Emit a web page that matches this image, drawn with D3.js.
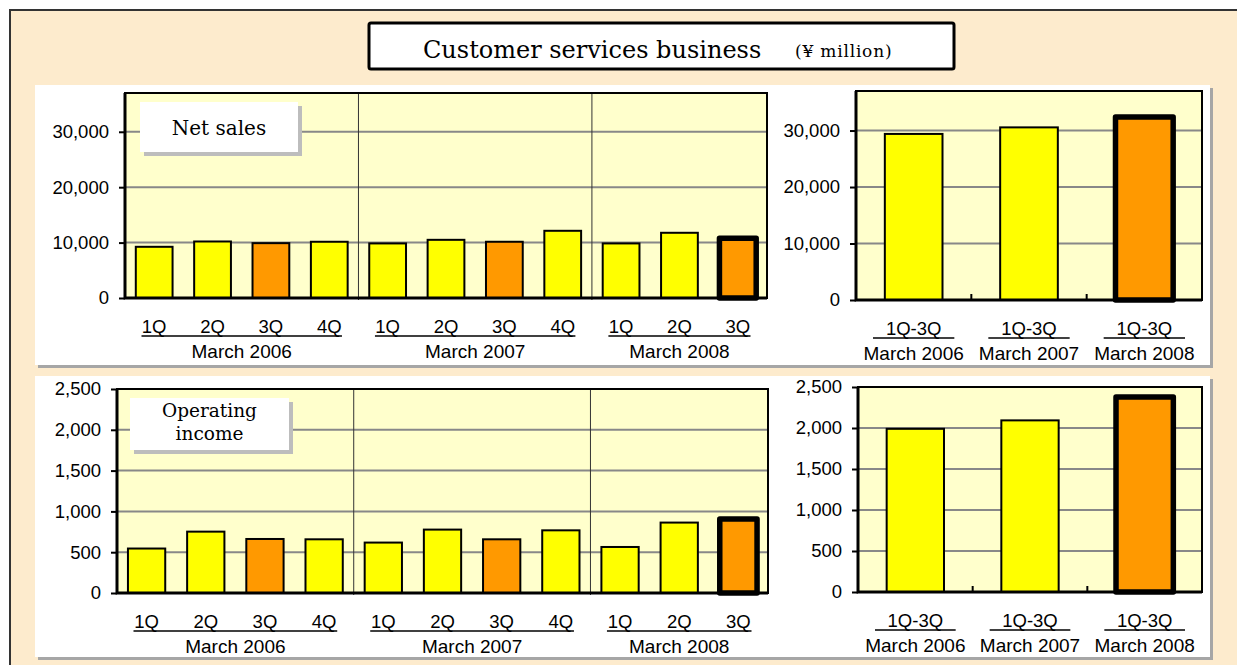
<!DOCTYPE html>
<html>
<head>
<meta charset="utf-8">
<script src="https://cdn.jsdelivr.net/npm/d3@7"></script>
<style>
  body { margin: 0; background: #fff; }
  svg { display: block; }
</style>
</head>
<body>
<script>
// quarterly data, fiscal years ending March
const quarters = ["1Q", "2Q", "3Q", "4Q", "1Q", "2Q", "3Q", "4Q", "1Q", "2Q", "3Q"];
const years = ["March 2006", "March 2007", "March 2008"];
const cumLabel = "1Q-3Q";

const netSales = [9240, 10200, 9900, 10150, 9850, 10500, 10150, 12130, 9850, 11770, 10800];
const netSalesCum = [29400, 30560, 32400];
const opIncome = [545, 752, 662, 658, 618, 777, 658, 768, 564, 863, 907];
const opIncomeCum = [1990, 2093, 2378];

const netSalesTicks = [0, 10000, 20000, 30000];
const opIncomeTicks = [0, 500, 1000, 1500, 2000, 2500];

const W = 1237, H = 665;
const sans = "'Liberation Sans', Arial, sans-serif";
const serif = "'DejaVu Serif', 'Liberation Serif', serif";
const YELLOW = "#ffff00", ORANGE = "#ff9900", PLOT_BG = "#ffffcc", PAGE_BG = "#fdebcd";

const svg = d3.select("body").append("svg").attr("width", W).attr("height", H);

// page background + frame (only top/left edge visible)
svg.append("rect").attr("x", 10).attr("y", 10).attr("width", W).attr("height", H).attr("fill", PAGE_BG);
svg.append("path").attr("d", `M10,${H} V10 H${W}`).attr("fill", "none").attr("stroke", "#333").attr("stroke-width", 2);

// white panels with a grey drop shadow
const panel = (y0, y1) => {
  svg.append("rect").attr("x", 38).attr("y", y0 + 3).attr("width", 1175).attr("height", y1 - y0).attr("fill", "#a6a6a6");
  svg.append("rect").attr("x", 35).attr("y", y0).attr("width", 1175).attr("height", y1 - y0).attr("fill", "#fff");
};
panel(85, 365);
panel(376, 657);

// title box
svg.append("rect").attr("x", 369).attr("y", 23).attr("width", 585).attr("height", 46).attr("rx", 2)
  .attr("fill", "#fff").attr("stroke", "#000").attr("stroke-width", 3);
svg.append("text").attr("x", 423).attr("y", 58).attr("font-family", serif).attr("font-size", 24)
  .text("Customer services business");
svg.append("text").attr("x", 795).attr("y", 57).attr("font-family", serif).attr("font-size", 17)
  .attr("letter-spacing", 0.8).text("(¥ million)");

const groupRanges = () => {
  const out = [];
  quarters.forEach((q, i) => {
    if (q === "1Q") out.push({ from: i, to: i + 1 });
    else out[out.length - 1].to = i + 1;
  });
  return out.map((r, k) => ({ ...r, label: years[k] }));
};

function barChart(opt) {
  const g = svg.append("g");
  const n = opt.values.length;
  const x = d3.scaleBand().domain(d3.range(n)).range([opt.left, opt.right])
    .paddingInner(opt.pad).paddingOuter(opt.pad / 2);
  const y = d3.scaleLinear().domain([0, opt.max]).range([opt.bottom, opt.top]);
  const step = x.step();

  g.append("rect").attr("x", opt.left).attr("y", opt.top)
    .attr("width", opt.right - opt.left).attr("height", opt.bottom - opt.top).attr("fill", PLOT_BG);

  g.selectAll(".grid").data(opt.ticks.filter(d => d > 0)).join("line")
    .attr("x1", opt.left).attr("x2", opt.right).attr("y1", d => y(d)).attr("y2", d => y(d))
    .attr("stroke", "#888").attr("stroke-width", 2);

  // year separators (quarterly chart) or small boundary ticks (cumulative chart)
  opt.groups.slice(1).forEach(gr => {
    const sx = opt.left + gr.from * step;
    if (opt.separators) {
      g.append("line").attr("x1", sx).attr("x2", sx).attr("y1", opt.top).attr("y2", opt.bottom + 2)
        .attr("stroke", "#333").attr("stroke-width", 1);
    } else {
      g.append("line").attr("x1", sx).attr("x2", sx).attr("y1", opt.bottom - 6).attr("y2", opt.bottom)
        .attr("stroke", "#000").attr("stroke-width", 2);
    }
  });

  g.selectAll(".bar").data(opt.values).join("rect")
    .attr("x", (d, i) => x(i)).attr("width", x.bandwidth())
    .attr("y", d => y(d)).attr("height", d => opt.bottom - y(d))
    .attr("fill", (d, i) => opt.isOrange(i) ? ORANGE : YELLOW)
    .attr("stroke", "#000")
    .attr("stroke-width", (d, i) => i === n - 1 ? 5.5 : 2)
    .attr("stroke-linejoin", (d, i) => i === n - 1 ? "round" : "miter");

  // plot frame
  g.append("rect").attr("x", opt.left).attr("y", opt.top)
    .attr("width", opt.right - opt.left).attr("height", opt.bottom - opt.top)
    .attr("fill", "none").attr("stroke", "#000").attr("stroke-width", 2);
  g.append("path").attr("d", `M${opt.left},${opt.top} V${opt.bottom} H${opt.right}`)
    .attr("fill", "none").attr("stroke", "#000").attr("stroke-width", 3);

  const ya = g.append("g").attr("transform", `translate(${opt.left},0)`)
    .call(d3.axisLeft(y).tickValues(opt.ticks).tickFormat(d3.format(",")).tickSize(6).tickPadding(10));
  ya.select(".domain").remove();
  ya.selectAll("line").attr("stroke", "#000").attr("stroke-width", 2);
  ya.selectAll("text").attr("font-family", sans).attr("font-size", 18.5).attr("fill", "#000");

  // category labels
  g.selectAll(".xl").data(opt.labels).join("text")
    .attr("x", (d, i) => x(i) + x.bandwidth() / 2).attr("y", opt.bottom + 35)
    .attr("text-anchor", "middle").attr("font-family", sans).attr("font-size", 18.5).text(d => d);

  opt.groups.forEach(gr => {
    const a = opt.left + gr.from * step, b = opt.left + gr.to * step;
    g.append("line").attr("x1", a + opt.inset).attr("x2", b - opt.inset)
      .attr("y1", opt.bottom + 38).attr("y2", opt.bottom + 38).attr("stroke", "#000").attr("stroke-width", 1.5);
    g.append("text").attr("x", (a + b) / 2).attr("y", opt.bottom + 60)
      .attr("text-anchor", "middle").attr("font-family", sans).attr("font-size", 19).text(gr.label);
  });
}

function labelBox(x0, y0, w, h, lines, baseline, size, lineGap) {
  svg.append("rect").attr("x", x0 + 4).attr("y", y0 + 4).attr("width", w).attr("height", h).attr("fill", "#bdbdbd");
  svg.append("rect").attr("x", x0).attr("y", y0).attr("width", w).attr("height", h).attr("fill", "#fff");
  lines.forEach((s, i) => {
    svg.append("text").attr("x", x0 + w / 2).attr("y", baseline + i * lineGap)
      .attr("text-anchor", "middle").attr("font-family", serif).attr("font-size", size).text(s);
  });
}

const qGroups = groupRanges();
const cGroups = years.map((label, i) => ({ from: i, to: i + 1, label }));

// net sales, quarterly
barChart({
  left: 125, right: 767, top: 93, bottom: 298, max: 37000, ticks: netSalesTicks,
  values: netSales, labels: quarters, groups: qGroups, pad: 0.37, separators: true, inset: 16.5,
  isOrange: i => quarters[i] === "3Q"
});
// net sales, cumulative
barChart({
  left: 856, right: 1202, top: 91, bottom: 300, max: 37000, ticks: netSalesTicks,
  values: netSalesCum, labels: years.map(() => cumLabel), groups: cGroups, pad: 0.5, separators: false, inset: 17,
  isOrange: i => i === netSalesCum.length - 1
});
// operating income, quarterly
barChart({
  left: 117, right: 768, top: 389, bottom: 593, max: 2500, ticks: opIncomeTicks,
  values: opIncome, labels: quarters, groups: qGroups, pad: 0.37, separators: true, inset: 16.5,
  isOrange: i => quarters[i] === "3Q"
});
// operating income, cumulative
barChart({
  left: 858, right: 1202, top: 387, bottom: 592, max: 2500, ticks: opIncomeTicks,
  values: opIncomeCum, labels: years.map(() => cumLabel), groups: cGroups, pad: 0.5, separators: false, inset: 17,
  isOrange: i => i === opIncomeCum.length - 1
});

labelBox(140, 102, 158, 50, ["Net sales"], 135, 20, 0);
labelBox(130, 398, 159, 52, ["Operating", "income"], 417, 18.5, 23);
</script>
</body>
</html>
